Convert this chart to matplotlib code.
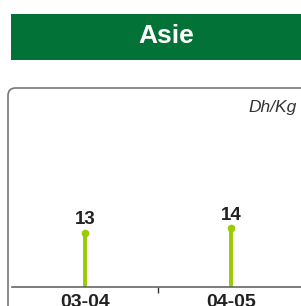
import matplotlib.pyplot as plt
from matplotlib.patches import FancyBboxPatch, Rectangle

# data
seasons = ['03-04', '04-05']
prix = [13, 14]
titre = 'Asie'
unite = 'Dh/Kg'

W, H = 301, 306
fig = plt.figure(figsize=(W / 100, H / 100), dpi=100)
plt.rcParams['font.family'] = ['Liberation Sans', 'DejaVu Sans']


def px(x0, y0, x1, y1):
    # pixel box -> figure fraction [left, bottom, width, height]
    return [x0 / W, 1 - y1 / H, (x1 - x0) / W, (y1 - y0) / H]


# green title banner
fig.patches.append(Rectangle((11 / W, 1 - 60 / H), 290 / W, 46 / H,
                             transform=fig.transFigure, facecolor='#037236',
                             edgecolor='none'))
fig.text(166 / W, 1 - 36 / H, titre, color='white', fontsize=19,
         fontweight='bold', ha='center', va='center')

# rounded frame
fig.patches.append(FancyBboxPatch((8 / W, -0.2), 1.0, 1 - 88 / H + 0.2,
                                  boxstyle='round,pad=0,rounding_size=0.025',
                                  transform=fig.transFigure, facecolor='none',
                                  edgecolor='#777777', linewidth=1.2))

ax = fig.add_axes(px(12, 88, 304, 287))
ax.patch.set_alpha(0)
x = range(len(seasons))
ax.vlines(x, 0, prix, color='#99cc00', linewidth=2.8)
ax.plot(x, prix, 'o', color='#99cc00', markersize=4.5)
for i, v in zip(x, prix):
    ax.text(i, v + 1.0, str(v), ha='center', va='bottom', fontsize=13.5,
            fontweight='bold', color='#222222')

ax.set_xlim(-0.5, 1.5)
ax.set_ylim(0, 47.5)
ax.set_xticks(x)
ax.set_xticklabels(seasons, fontsize=14, fontweight='bold', color='#222222')
ax.set_xticks([0.5], minor=True)
ax.tick_params(axis='x', which='major', length=0, pad=5)
ax.tick_params(axis='x', which='minor', length=4, width=1, color='#333333')
ax.set_yticks([])
for s in ['left', 'top', 'right']:
    ax.spines[s].set_visible(False)
ax.spines['bottom'].set_color('#666666')
ax.spines['bottom'].set_linewidth(1.2)

fig.text(297 / W, 1 - 107.5 / H, unite, fontsize=12.5, style='italic',
         color='#333333', ha='right', va='center')

fig.savefig('out.png', dpi=100)
